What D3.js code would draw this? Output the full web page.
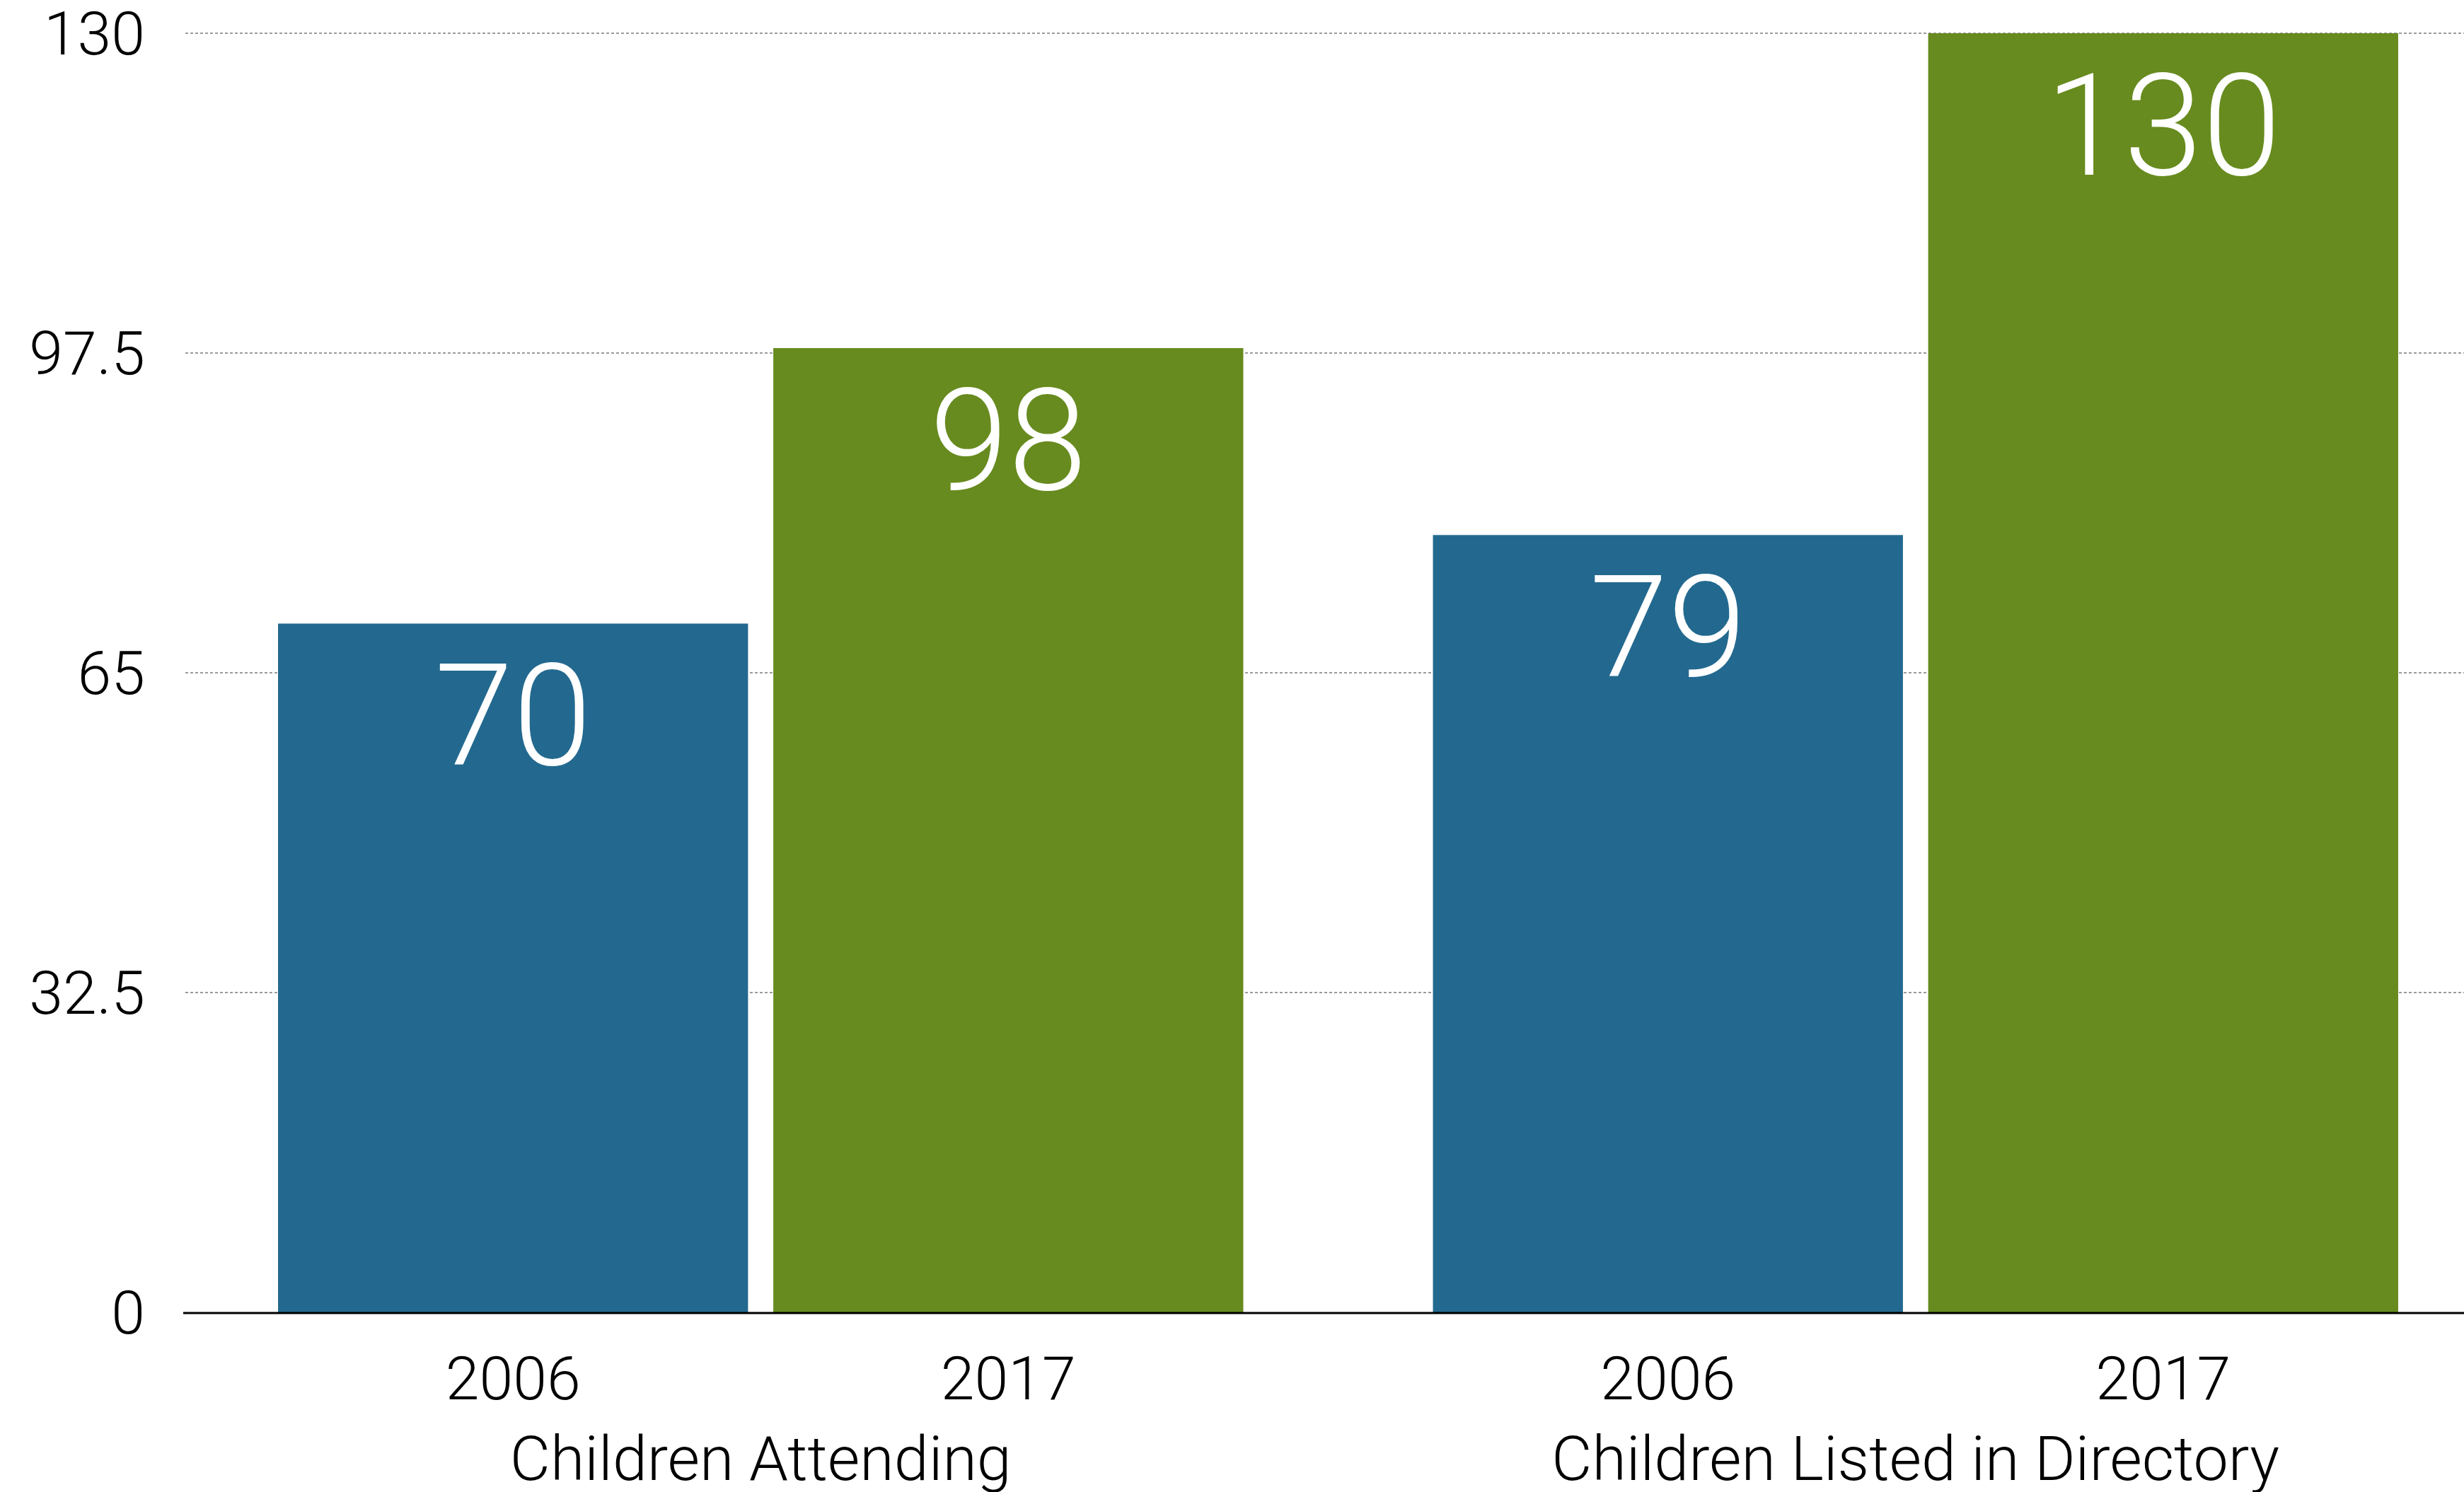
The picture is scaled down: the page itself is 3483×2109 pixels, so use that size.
<!DOCTYPE html>
<html>
<head>
<meta charset="utf-8">
<script src="https://cdn.jsdelivr.net/npm/d3@7"></script>
<style>
  html, body { margin: 0; padding: 0; background: #fff; }
  svg text { font-family: Roboto, "Open Sans", "Liberation Sans", sans-serif; font-weight: 300; }
</style>
</head>
<body>
<div id="chart"></div>
<script>
// data
var categories = ["Children Attending", "Children Listed in Directory"];
var years = ["2006", "2017"];
var values2006 = [70, 79];
var values2017 = [98, 130];
var yTicks = [0, 32.5, 65, 97.5, 130];
var yTickLabels = ["0", "32.5", "65", "97.5", "130"];

var colors = { "2006": "#23698F", "2017": "#678B1E" };

var width = 3483, height = 2109;

var svg = d3.select("#chart")
    .append("svg")
    .attr("width", width)
    .attr("height", height);

var x0 = d3.scaleBand()
    .domain(categories)
    .range([259, 3524])
    .paddingInner(0.1642)
    .paddingOuter(0.0821);

var x1 = d3.scaleBand()
    .domain(years)
    .range([0, x0.bandwidth()])
    .paddingInner(0.051);

var y = d3.scaleLinear()
    .domain([0, 130])
    .range([1855, 47]);

// gridlines
svg.append("g")
    .attr("class", "grid")
    .selectAll("line")
    .data(yTicks.filter(function(d) { return d > 0; }))
    .enter().append("line")
    .attr("x1", 262)
    .attr("x2", width)
    .attr("y1", function(d) { return y(d); })
    .attr("y2", function(d) { return y(d); })
    .attr("stroke", "#9a9a9a")
    .attr("stroke-width", 2)
    .attr("stroke-dasharray", "4 3");

// y tick labels
svg.append("g")
    .selectAll("text")
    .data(yTicks)
    .enter().append("text")
    .attr("x", 205)
    .attr("y", function(d) { return y(d); })
    .attr("dy", "0.35em")
    .attr("text-anchor", "end")
    .attr("font-size", 86)
    .attr("fill", "#000")
    .text(function(d, i) { return yTickLabels[i]; });

// bars
var rows = [];
categories.forEach(function(c, i) {
    rows.push({ cat: c, year: "2006", value: values2006[i] });
    rows.push({ cat: c, year: "2017", value: values2017[i] });
});

var bar = svg.append("g")
    .selectAll("g")
    .data(rows)
    .enter().append("g")
    .attr("transform", function(d) { return "translate(" + (x0(d.cat) + x1(d.year)) + ",0)"; });

bar.append("rect")
    .attr("x", 0)
    .attr("y", function(d) { return y(d.value); })
    .attr("width", x1.bandwidth())
    .attr("height", function(d) { return y(0) - y(d.value); })
    .attr("fill", function(d) { return colors[d.year]; });

bar.append("text")
    .attr("x", x1.bandwidth() / 2)
    .attr("y", function(d) { return y(d.value) + 200; })
    .attr("text-anchor", "middle")
    .attr("font-size", 200)
    .attr("fill", "#fff")
    .text(function(d) { return d.value; });

// year labels
bar.append("text")
    .attr("x", x1.bandwidth() / 2)
    .attr("y", 1978)
    .attr("text-anchor", "middle")
    .attr("font-size", 86)
    .attr("fill", "#000")
    .text(function(d) { return d.year; });

// category labels
svg.append("g")
    .selectAll("text")
    .data(categories)
    .enter().append("text")
    .attr("x", function(d) { return x0(d) + x0.bandwidth() / 2; })
    .attr("y", 2092)
    .attr("text-anchor", "middle")
    .attr("font-size", 88)
    .attr("fill", "#000")
    .text(function(d) { return d; });

// baseline
svg.append("line")
    .attr("x1", 259)
    .attr("x2", width)
    .attr("y1", y(0) + 1)
    .attr("y2", y(0) + 1)
    .attr("stroke", "#000")
    .attr("stroke-width", 3);
</script>
</body>
</html>
